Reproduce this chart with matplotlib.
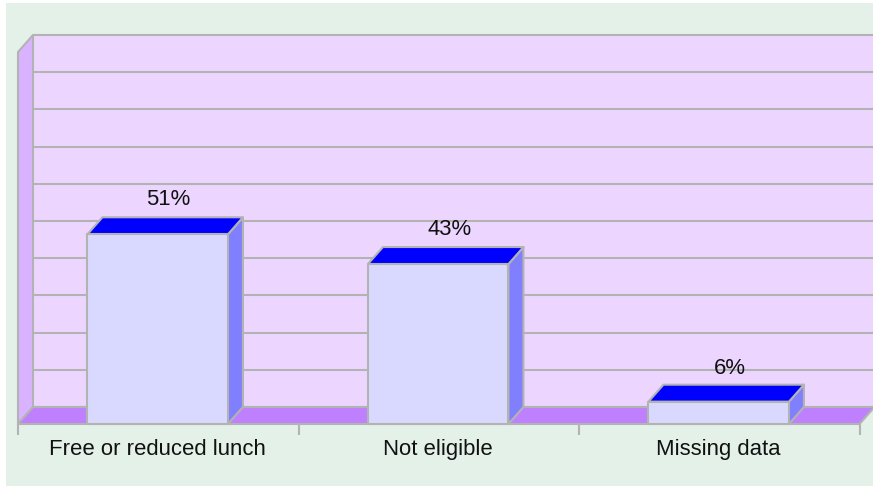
import matplotlib
matplotlib.use("Agg")
import matplotlib.pyplot as plt
from matplotlib.patches import Polygon, Rectangle

categories = ["Free or reduced lunch", "Not eligible", "Missing data"]
values = [51, 43, 6]
labels = ["51%", "43%", "6%"]
grid_values = [0, 10, 20, 30, 40, 50, 60, 70, 80, 90, 100]

W, H = 873, 486
EDGE = "#b3b3b3"

# front plane of the 3d box, in pixels
LEFT, RIGHT, BOTTOM, TOP = 18, 859.5, 424, 52

fig = plt.figure(figsize=(W / 100, H / 100), dpi=100, facecolor="white")
fig.patches.append(Rectangle((6 / W, 0.5 / H), 1, 1 - 3.5 / H, transform=fig.transFigure,
                             facecolor="#e3f1e8", edgecolor="none", zorder=-1))

ax = fig.add_axes([LEFT / W, 1 - BOTTOM / H, (RIGHT - LEFT) / W, (BOTTOM - TOP) / H])
ax.set_xlim(0, len(categories))
ax.set_ylim(0, 100)
ax.axis("off")

# depth of the fake 3d, in data units
dx = 15 / ((RIGHT - LEFT) / len(categories))
dy = 17 / ((BOTTOM - TOP) / 100)


def poly(points, color, z=1, lw=1.5, edge=EDGE):
    ax.add_patch(Polygon(points, closed=True, facecolor=color, edgecolor=edge,
                         linewidth=lw, clip_on=False, zorder=z, joinstyle="round"))


n = len(categories)
# back wall, side wall, floor
poly([(dx, dy), (n + dx, dy), (n + dx, 100 + dy), (dx, 100 + dy)], "#ecd6ff", z=1, lw=0)
poly([(0, 0), (dx, dy), (dx, 100 + dy), (0, 100)], "#d9b3ff", z=1)
poly([(0, 0), (n, 0), (n + dx, dy), (dx, dy)], "#bf80ff", z=2)

for g in grid_values:
    ax.plot([dx, n + dx], [g + dy, g + dy], color=EDGE, lw=1.5, clip_on=False, zorder=1.5,
            solid_capstyle="butt")

# category ticks under the floor
for i in range(n + 1):
    ax.plot([i, i], [0, -11 / ((BOTTOM - TOP) / 100)], color=EDGE, lw=1.5, clip_on=False,
            zorder=2, solid_capstyle="butt")

bar_w = 140.5 / ((RIGHT - LEFT) / n)
label_gap = [9.35, 9.35, 8.8]
for i, (cat, v, lab) in enumerate(zip(categories, values, labels)):
    x0 = i + 0.5 - bar_w / 2 - 0.002
    x1 = x0 + bar_w
    poly([(x1, 0), (x1 + dx, dy), (x1 + dx, v + dy), (x1, v)], "#8080ff", z=3)
    poly([(x0, v), (x1, v), (x1 + dx, v + dy), (x0 + dx, v + dy)], "#0000ff", z=3)
    poly([(x0, 0), (x1, 0), (x1, v), (x0, v)], "#d9d9ff", z=4)
    ax.text(i + 0.5 + 0.037, v + label_gap[i], lab, ha="center", va="center", fontsize=15.9,
            family="Liberation Sans", color="#111111", zorder=5, clip_on=False)
    ax.text(i + 0.498, -6.8, cat, ha="center", va="center", fontsize=15.9,
            family="Liberation Sans", color="#111111", zorder=5, clip_on=False)

fig.savefig("out.png", dpi=100, facecolor=fig.get_facecolor())
